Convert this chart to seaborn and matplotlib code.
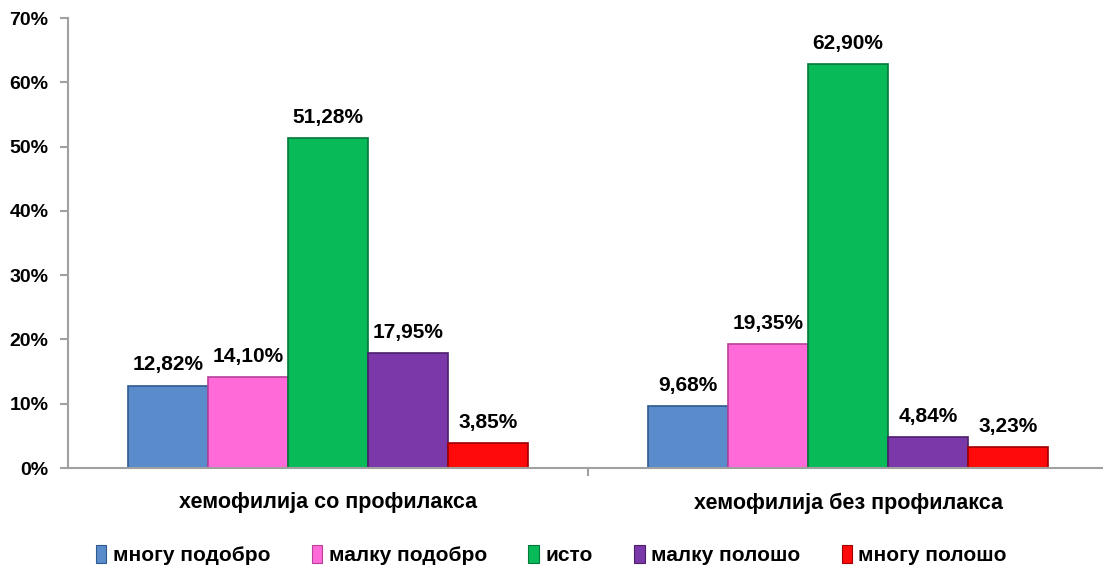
import pandas as pd
import numpy as np
import matplotlib.pyplot as plt
import seaborn as sns
from matplotlib.ticker import FuncFormatter

# Податоци од графиконот
groups = ["хемофилија со профилакса", "хемофилија без профилакса"]
answers = ["многу подобро", "малку подобро", "исто", "малку полошо", "многу полошо"]
with_prof = [12.82, 14.10, 51.28, 17.95, 3.85]
without_prof = [9.68, 19.35, 62.90, 4.84, 3.23]
colors = ["#5a8ccc", "#ff6ad8", "#08bb58", "#7b38a8", "#ff0a0a"]
edges = ["#2f5a8f", "#b8409a", "#04783a", "#4c1f6c", "#a00000"]

df = pd.DataFrame({
    "група": np.repeat(groups, len(answers)),
    "одговор": answers * 2,
    "процент": with_prof + without_prof,
})

sns.set_style("white")
plt.rcParams["font.family"] = ["Liberation Sans", "DejaVu Sans"]
plt.rcParams["text.color"] = "black"
plt.rcParams["xtick.color"] = "black"
plt.rcParams["ytick.color"] = "black"

fig = plt.figure(figsize=(11.03, 5.72), dpi=100)
ax = fig.add_axes([0.0617, 0.1818, 0.9383, 0.7867])

sns.barplot(data=df, x="група", y="процент", hue="одговор", order=groups,
            hue_order=answers, palette=colors, saturation=1, width=0.77, gap=0,
            edgecolor="none", linewidth=0, legend=False, ax=ax)

# темни рабови за ефект на рељеф
for cont, ec in zip(ax.containers, edges):
    for bar in cont:
        bar.set_edgecolor(ec)
        bar.set_linewidth(1.2)
    labels = [f"{v:.2f}%".replace(".", ",") for v in cont.datavalues]
    ax.bar_label(cont, labels=labels, padding=8, fontsize=15, fontweight="bold",
                 color="black")

ax.set_ylim(0, 70)
ax.set_xlim(-0.5, 1.49)
ax.set_yticks(range(0, 71, 10))
ax.yaxis.set_major_formatter(FuncFormatter(lambda v, p: f"{v:.0f}%"))
ax.set_xlabel("")
ax.set_ylabel("")

for s in ["top", "right"]:
    ax.spines[s].set_visible(False)
for s in ["left", "bottom"]:
    ax.spines[s].set_color("#a0a0a0")
    ax.spines[s].set_linewidth(1.5)

ax.tick_params(axis="y", left=True, length=6, width=1.5, color="#a0a0a0",
               labelcolor="black", labelsize=14, pad=8)
for t in ax.get_yticklabels():
    t.set_fontweight("bold")
ax.tick_params(axis="x", bottom=False, labelcolor="black", labelsize=15.5, pad=14)
for t in ax.get_xticklabels():
    t.set_fontweight("bold")
ax.set_xticks([0.5], minor=True)
ax.tick_params(axis="x", which="minor", bottom=True, length=6, width=1.5,
               color="#a0a0a0")

handles = [plt.Rectangle((0, 0), 1, 1, facecolor=c, edgecolor=e, linewidth=0.8)
           for c, e in zip(colors, edges)]
fig.legend(handles, answers, loc="center", bbox_to_anchor=(0.5, 0.03), ncol=5,
           frameon=False, handlelength=0.5, handleheight=1.0, handletextpad=0.3,
           columnspacing=2.0,
           prop={"family": ["Liberation Sans Narrow", "Liberation Sans"],
                 "weight": "bold", "size": 15})

fig.savefig("out.png", dpi=100)
